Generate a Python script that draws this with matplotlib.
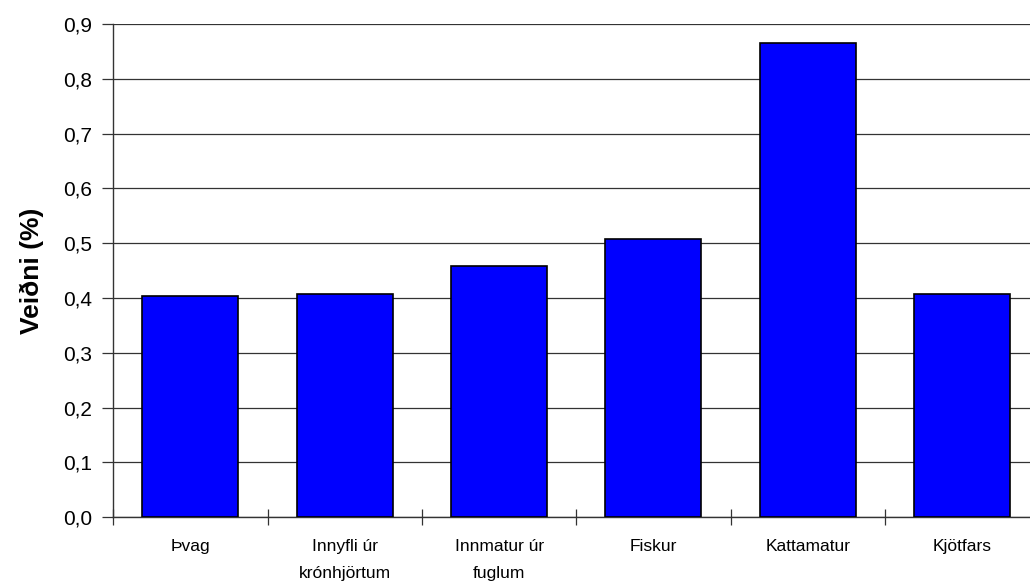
import numpy as np
import matplotlib
matplotlib.use("Agg")
import matplotlib.pyplot as plt
from matplotlib.ticker import FuncFormatter, MultipleLocator

# Gögn lesin af myndinni
flokkar = ["Þvag", "Innyfli úr\nkrónhjörtum", "Innmatur úr\nfuglum", "Fiskur", "Kattamatur", "Kjötfars"]
veidni = [0.404, 0.408, 0.459, 0.508, 0.866, 0.408]
y_ticks = [0.0, 0.1, 0.2, 0.3, 0.4, 0.5, 0.6, 0.7, 0.8, 0.9]

plt.rcParams['font.family'] = ['Liberation Sans', 'DejaVu Sans']

fig = plt.figure(figsize=(10.3, 5.87), dpi=100)
ax = fig.add_axes([0.110, 0.119, 0.890, 0.840])

x = np.arange(len(flokkar))
ax.bar(x, veidni, width=0.622, color="#0000FF", edgecolor="black", linewidth=1.2, zorder=3)

# Lóðréttur ás
ax.set_ylim(0, 0.9)
ax.set_yticks(y_ticks)
ax.yaxis.set_major_formatter(FuncFormatter(lambda v, p: f"{v:.1f}".replace(".", ",")))
ax.grid(axis="y", color="#333333", linewidth=0.9, zorder=0)
ax.tick_params(axis="y", direction="out", length=8, width=0.9, color="#333333", pad=7, labelsize=15)
ax.set_ylabel("Veiðni (%)", fontsize=19, fontweight="bold", labelpad=14)

# Láréttur ás
ax.set_xlim(-0.5, 5.44)
ax.set_xticks(x)
ax.set_xticklabels(flokkar, fontsize=12.5, linespacing=2.0, va="top")
ax.tick_params(axis="x", which="major", length=0, pad=16)
ax.xaxis.set_minor_locator(MultipleLocator(1, offset=0.5))
ax.tick_params(axis="x", which="minor", direction="inout", length=11, width=0.9, color="#333333")

for side in ["top", "right"]:
    ax.spines[side].set_visible(False)
for side in ["left", "bottom"]:
    ax.spines[side].set_color("#333333")
    ax.spines[side].set_linewidth(1.0)

fig.savefig("out.png", dpi=100)
